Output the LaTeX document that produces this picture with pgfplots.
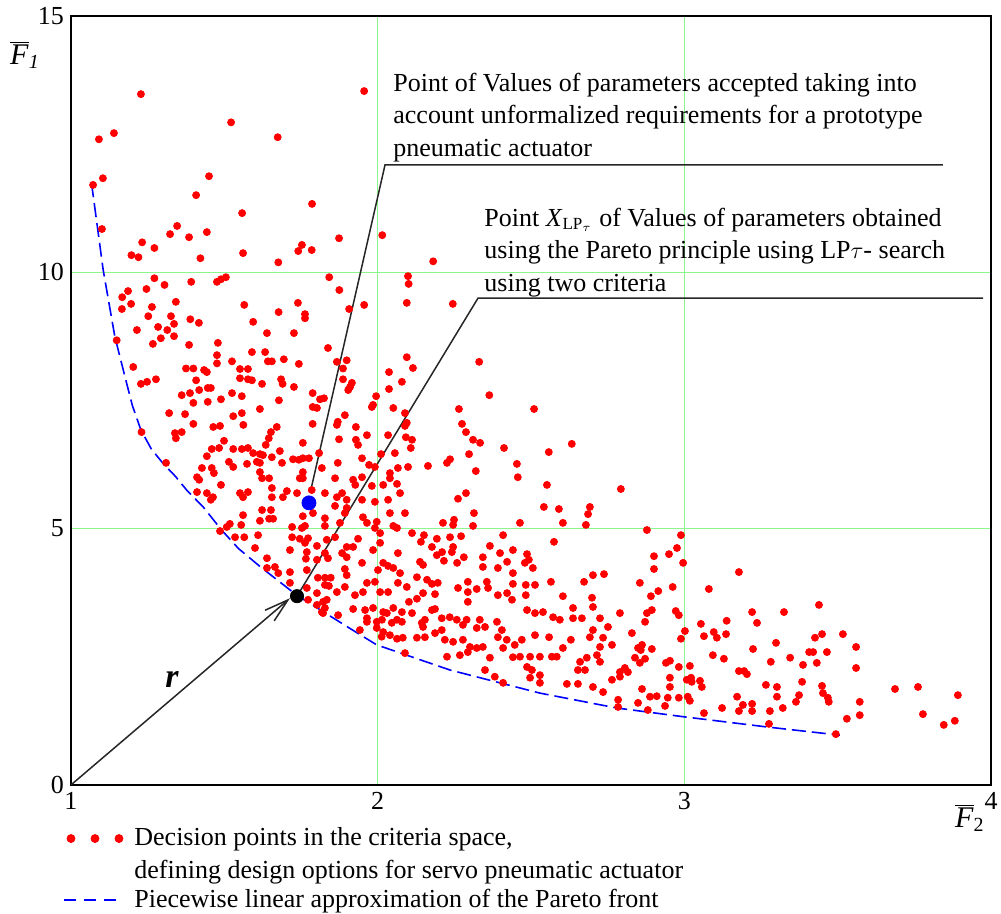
\documentclass[border=0pt]{standalone}
\usepackage{fontspec}
\setmainfont{Liberation Serif}
\usepackage{pgfplots}
\usepackage{pgfplotstable}
\pgfplotsset{compat=1.18}
\usetikzlibrary{arrows.meta}
\definecolor{gridgreen}{RGB}{140,245,140}

% decision points (F2, F1)
\pgfplotstableread{
x y
1.228 13.47
1.956 13.53
1.091 12.59
1.140 12.71
1.522 12.92
1.674 12.63
1.104 11.83
1.072 11.70
1.450 11.87
1.408 11.50
1.786 11.33
1.558 11.15
1.101 10.84
1.346 10.90
1.323 10.74
1.385 10.68
1.443 10.78
1.874 10.66
2.015 10.72
1.232 10.58
1.272 10.47
1.197 10.33
1.220 10.29
1.422 10.27
1.561 10.37
1.741 10.41
1.753 10.53
1.785 10.43
1.676 10.19
2.181 10.21
1.272 9.88
1.842 9.90
2.099 9.92
2.101 9.77
1.476 9.81
1.489 9.86
1.505 9.90
1.392 9.81
1.246 9.67
1.305 9.75
1.186 9.63
1.167 9.51
1.875 9.65
1.166 9.28
1.196 9.38
1.264 9.32
1.342 9.42
1.252 9.14
1.326 9.14
1.336 8.99
1.389 9.08
1.417 9.01
1.565 9.36
1.594 9.03
1.677 9.22
1.740 9.40
1.763 9.18
1.763 9.10
1.907 9.28
1.956 9.36
2.095 9.40
1.215 8.87
1.284 8.93
1.314 8.87
1.149 8.67
1.336 8.75
1.293 8.71
1.267 8.60
1.385 8.58
1.479 8.62
1.639 8.81
1.727 8.81
2.095 8.34
1.838 8.52
1.476 8.38
1.476 8.22
1.525 8.26
1.590 8.44
1.633 8.44
1.642 8.26
1.655 8.26
1.694 8.30
1.743 8.21
1.867 8.25
1.899 8.28
1.887 8.12
1.203 8.15
1.375 8.12
1.399 8.12
1.434 8.09
1.443 8.05
1.551 8.11
1.577 8.11
1.551 7.93
1.577 7.91
1.590 7.89
1.685 7.91
1.277 7.91
1.248 7.86
1.228 7.82
1.408 7.89
1.887 7.91
1.916 7.84
2.079 7.86
2.037 8.05
1.418 7.70
1.446 7.74
1.456 7.74
1.361 7.60
1.388 7.64
1.399 7.45
1.446 7.47
1.489 7.52
1.525 7.64
1.557 7.58
1.623 7.82
1.678 7.50
1.690 7.82
1.727 7.76
1.788 7.64
1.812 7.52
1.825 7.54
1.788 7.37
1.802 7.35
1.904 7.70
1.910 7.76
1.995 7.58
1.985 7.41
1.981 7.37
2.037 7.72
2.051 7.35
1.616 7.33
1.320 7.25
1.372 7.23
1.529 7.19
1.557 7.25
1.562 7.02
1.399 7.04
1.464 6.98
1.486 7.00
1.671 6.98
1.788 7.04
1.867 7.02
1.870 7.08
1.893 7.21
1.929 6.98
1.965 6.82
1.929 6.73
2.034 6.82
2.095 7.06
1.339 6.86
1.361 6.88
1.342 6.76
1.230 6.88
1.652 6.88
1.645 6.76
1.635 6.63
1.499 6.71
1.756 6.67
1.874 6.74
1.936 6.63
1.459 6.55
1.483 6.57
1.529 6.55
1.557 6.55
1.577 6.57
1.594 6.47
1.616 6.45
1.626 6.43
1.443 6.41
1.515 6.30
1.529 6.20
1.574 6.26
1.606 6.30
1.616 6.28
1.655 6.39
1.681 6.51
1.688 6.28
1.724 6.35
1.743 6.34
1.756 6.37
1.776 6.37
1.809 6.47
1.870 6.28
1.949 6.37
1.972 6.24
2.011 6.45
2.056 6.47
1.310 6.28
1.459 6.18
1.466 6.08
1.427 6.18
1.411 6.00
1.616 6.10
1.756 6.10
1.818 6.18
1.756 5.98
1.746 5.98
1.949 6.00
1.991 6.20
2.040 6.08
2.066 6.18
2.099 6.20
1.418 5.95
1.489 5.85
1.623 5.98
1.646 5.98
1.551 5.69
1.561 5.61
1.577 5.71
1.456 5.56
1.463 5.61
1.443 5.69
1.411 5.71
1.655 5.79
1.655 5.61
1.704 5.73
1.737 5.69
1.691 5.61
1.785 5.75
1.828 5.69
1.861 5.98
1.867 5.61
1.884 5.69
1.920 5.95
1.927 5.85
1.981 5.83
2.018 5.85
2.040 5.98
2.063 5.87
2.073 5.69
1.899 5.56
1.899 5.40
1.893 5.30
1.949 5.56
1.991 5.52
2.034 5.56
1.861 5.44
1.623 5.36
1.652 5.36
1.789 5.30
1.616 5.15
1.646 5.19
1.659 5.19
1.561 5.26
1.555 5.07
1.518 5.09
1.508 5.03
1.486 4.95
1.721 5.03
1.756 5.24
1.763 5.05
1.753 5.01
1.828 5.20
1.828 5.05
1.877 5.11
1.952 5.22
1.965 5.11
1.997 5.13
1.991 5.01
2.051 5.05
2.063 5.01
2.040 5.30
2.089 5.30
1.610 4.87
1.535 4.83
1.565 4.83
1.721 4.83
1.746 4.80
1.773 4.81
1.763 4.72
1.802 4.66
1.834 4.78
1.861 4.83
1.899 4.64
1.920 4.64
1.936 4.80
2.008 4.91
2.008 4.72
1.600 4.62
1.639 4.42
1.714 4.58
1.769 4.54
1.766 4.41
1.769 4.19
1.802 4.39
1.828 4.52
1.838 4.42
1.884 4.52
1.899 4.44
1.985 4.58
2.018 4.33
2.066 4.52
1.893 4.21
1.949 4.33
2.001 4.19
2.034 4.27
2.051 4.23
2.073 4.13
1.899 4.09
1.665 4.25
1.676 4.13
1.639 4.23
1.714 4.15
1.805 4.04
1.714 3.94
1.769 3.84
1.802 3.74
1.828 4.04
1.847 4.04
1.828 3.90
1.841 3.88
1.867 3.76
1.893 3.86
1.926 3.70
1.952 3.76
1.965 3.94
1.991 3.96
2.008 3.76
2.034 3.76
2.066 3.94
2.095 3.86
1.773 3.61
1.802 3.51
1.834 3.61
1.828 3.45
1.920 3.43
1.959 3.41
1.985 3.45
2.018 3.37
2.051 3.45
2.079 3.37
1.822 3.35
2.014 3.22
2.046 3.16
1.965 3.18
2.265 7.33
2.510 7.33
2.275 7.04
2.288 6.88
2.311 6.73
2.334 6.67
2.412 6.57
2.558 6.49
2.633 6.65
2.112 6.73
2.108 6.57
2.298 6.45
2.236 6.35
2.226 6.28
2.164 6.22
2.320 6.12
2.454 6.26
2.457 6.00
2.552 5.85
2.793 5.77
2.288 5.69
2.262 5.58
2.314 5.30
2.542 5.42
2.591 5.38
2.692 5.42
2.686 5.28
2.604 5.11
2.679 5.07
2.464 5.11
2.249 5.17
2.213 5.11
2.246 5.07
2.311 5.05
2.878 4.97
2.409 4.87
2.575 4.74
2.112 4.91
2.151 4.87
2.193 4.80
2.236 4.83
2.272 4.85
2.141 4.74
2.177 4.64
2.210 4.54
2.246 4.64
2.242 4.54
2.281 4.44
2.366 4.66
2.399 4.52
2.441 4.58
2.487 4.50
2.493 4.39
2.422 4.35
2.138 4.35
2.148 4.29
2.193 4.48
2.216 4.37
2.259 4.33
2.343 4.44
2.343 4.25
2.392 4.23
2.480 4.33
2.506 4.23
2.441 4.13
2.128 4.05
2.161 4.00
2.177 3.92
2.196 3.94
2.187 3.72
2.148 3.74
2.102 3.57
2.128 3.63
2.112 3.35
2.262 3.84
2.294 3.96
2.294 3.76
2.294 3.57
2.323 3.82
2.356 3.96
2.360 3.84
2.392 3.70
2.422 3.74
2.441 3.92
2.438 3.61
2.483 3.90
2.513 3.90
2.483 3.70
2.565 3.96
2.673 3.96
2.702 4.09
2.738 4.11
2.855 3.94
2.604 3.68
2.637 3.45
2.699 3.65
2.702 3.47
2.487 3.41
2.513 3.35
2.539 3.37
2.572 3.27
2.594 3.22
2.637 3.25
2.666 3.25
2.725 3.25
2.751 3.08
2.790 3.35
2.829 2.96
2.878 3.35
2.849 2.67
2.702 3.02
2.692 2.88
2.735 2.87
2.764 2.73
2.725 2.69
2.715 2.53
2.682 2.48
2.660 2.40
2.653 2.24
2.676 2.24
2.725 2.40
2.764 2.05
2.790 2.20
2.806 2.28
2.816 2.20
2.790 2.11
2.839 2.48
2.855 2.38
2.862 2.73
2.784 1.66
2.784 1.52
2.849 1.60
2.735 1.81
2.702 1.91
2.617 1.97
2.653 1.97
2.604 2.67
2.630 2.83
2.559 2.88
2.513 2.92
2.470 2.83
2.447 2.73
2.421 2.83
2.392 2.88
2.405 3.02
2.389 3.18
2.350 3.08
2.323 3.06
2.333 3.22
2.290 3.22
2.278 3.12
2.258 3.22
2.235 3.27
2.209 3.25
2.187 3.43
2.177 3.41
2.154 3.22
2.144 3.16
2.148 3.08
2.128 2.87
2.154 2.88
2.187 2.96
2.209 3.02
2.219 2.83
2.246 2.79
2.278 2.83
2.301 2.69
2.294 2.59
2.323 2.67
2.343 2.69
2.366 2.48
2.350 2.24
2.382 2.11
2.409 1.99
2.409 2.67
2.441 2.49
2.464 2.50
2.497 2.50
2.529 2.50
2.487 2.30
2.503 2.24
2.497 2.09
2.529 2.14
2.529 1.99
2.568 2.50
2.584 2.50
2.226 2.50
2.268 2.53
2.089 2.57
2.082 2.87
2.063 2.85
2.040 2.92
2.018 2.98
2.013 2.89
1.997 3.06
1.942 3.02
1.871 3.31
1.997 3.18
1.965 3.25
1.818 3.37
1.822 3.57
2.030 3.35
2.063 3.22
2.079 3.18
2.989 4.87
2.976 4.62
2.950 4.50
2.901 4.46
2.901 4.21
2.996 4.33
2.962 3.86
2.915 3.78
2.891 3.68
3.178 4.15
3.080 3.82
2.894 3.41
2.872 3.18
2.972 3.39
2.982 3.31
3.002 3.00
2.989 2.85
3.054 3.14
3.138 3.20
3.221 3.37
3.237 3.16
3.325 3.37
3.439 3.51
2.858 2.63
2.894 2.65
2.872 2.46
2.940 2.38
2.953 2.42
2.982 2.30
3.018 2.32
3.064 2.90
3.096 2.98
3.106 2.87
3.136 2.94
3.093 2.53
3.129 2.46
2.953 2.09
3.008 2.05
3.022 2.09
3.024 2.01
3.051 2.03
3.057 1.91
3.011 1.72
3.018 1.64
2.953 1.91
2.946 1.70
2.937 1.54
2.982 1.70
2.910 1.73
2.888 1.72
2.881 1.46
2.862 1.87
3.064 1.40
3.123 1.50
3.172 1.72
3.178 1.44
3.191 1.56
3.221 1.58
3.221 1.44
3.266 1.95
3.302 1.91
3.302 1.72
3.279 1.44
3.321 1.50
3.276 1.19
3.364 1.62
3.374 1.75
3.384 2.01
3.449 1.93
3.452 1.79
3.468 1.70
3.471 1.62
3.530 1.29
3.572 1.62
3.572 1.36
3.494 0.99
3.687 1.87
3.762 1.91
3.778 1.38
3.846 1.17
3.882 1.25
3.892 1.75
3.560 2.69
3.560 2.28
3.517 2.94
3.465 2.59
3.432 2.38
3.387 2.34
3.345 2.48
3.407 2.59
3.420 2.59
3.426 2.87
3.449 2.94
3.282 2.40
3.299 2.77
3.224 2.65
3.195 2.22
3.204 2.16
3.178 2.22
2.245 9.38
2.115 8.13
2.331 8.25
2.364 7.60
2.089 7.25
2.089 7.00
2.092 6.78
}\decisions

% piecewise linear approximation of the Pareto front
\pgfplotstableread{
x y
1.067 11.73
1.105 10.04
1.143 8.74
1.176 7.96
1.200 7.40
1.228 6.92
1.262 6.55
1.300 6.27
1.340 6.02
1.377 5.75
1.431 5.42
1.491 4.97
1.546 4.61
1.616 4.26
1.736 3.70
1.910 3.05
1.997 2.73
2.236 2.24
2.529 1.79
2.779 1.50
2.996 1.33
3.269 1.13
3.507 0.97
}\front

\begin{document}
\begin{tikzpicture}
\begin{axis}[
    at={(0,0)}, anchor=south west,
    scale only axis, width=460pt, height=384.6pt,
    xmin=1, xmax=4, ymin=0, ymax=15,
    xtick={1,2,3,4}, ytick={0,5,10,15},
    grid=major,
    major grid style={gridgreen, line width=0.5pt},
    major tick length=0pt,
    axis line style={line width=1pt},
    tick label style={font=\fontsize{13}{15}\selectfont},
    /pgf/number format/assume math mode=true,
    clip=false,
    legend style={at={(-0.0087,-0.05)}, anchor=north west, draw=none, fill=none,
        font=\fontsize{13}{16.25}\selectfont,
        cells={anchor=west, align=left}, inner sep=0pt, row sep=0pt},
]
\addplot[only marks, mark=*, red, mark size=1.75pt,
    legend image code/.code={
        \fill[red] (3.3pt,8pt) circle[radius=2pt];
        \fill[red] (15.3pt,8pt) circle[radius=2pt];
        \fill[red] (27.3pt,8pt) circle[radius=2pt];
        \path (32.8pt,0pt);}]
    table {\decisions};
\addlegendentry{Decision points in the criteria space,\\defining design options for servo pneumatic actuator}

\addplot[blue, line width=0.8pt, dash pattern=on 7pt off 3pt,
    legend image code/.code={
        \draw[blue, line width=1pt, dash pattern=on 6pt off 4pt] (0pt,0pt) -- (26pt,0pt);}]
    table {\front};
\addlegendentry{Piecewise linear approximation of the Pareto front}

% leader lines of the two notes
\draw[line width=0.75pt, black!85] (axis cs:1.782,5.75) -- (axis cs:2.024,12.09) -- (axis cs:3.843,12.09);
\draw[line width=0.75pt, black!85] (axis cs:1.737,3.68) -- (axis cs:2.327,9.49) -- (axis cs:3.974,9.49);
\draw[line width=0.75pt, black!85, -{Straight Barb[length=12pt,width=7pt]}] (axis cs:1,0) -- (axis cs:1.714,3.64);

\addplot[only marks, mark=*, blue, mark size=3.5pt, forget plot] coordinates {(1.776,5.50)};
\addplot[only marks, mark=*, black, mark size=3.3pt, forget plot] coordinates {(1.737,3.68)};

\node[anchor=base west, align=left, inner sep=0pt, font=\fontsize{13}{16.25}\selectfont]
    at (axis cs:2.050,12.26)
    {Point of Values of parameters accepted taking into\\account unformalized requirements for a prototype\\pneumatic actuator};
\node[anchor=base west, align=left, inner sep=0pt, font=\fontsize{13}{16.25}\selectfont]
    at (axis cs:2.347,9.63)
    {Point \textit{X}$_{\mbox{\fontsize{8.5}{8.5}\selectfont LP}_{\tau}}$ of Values of parameters obtained\\using the Pareto principle using LP$\tau$- search\\using two criteria};
\node[font=\fontsize{17}{17}\selectfont\bfseries\itshape] at (axis cs:1.329,2.05) {r};
\node[font=\fontsize{15}{15}\selectfont] at (rel axis cs:-0.05,0.949)
    {$\overline{\mbox{\textit{F}}}_{\mbox{\fontsize{10}{10}\selectfont\textit{1}}}$};
\node[font=\fontsize{15}{15}\selectfont] at (rel axis cs:0.977,-0.043)
    {$\overline{\mbox{\textit{F}}}_{\mbox{\fontsize{10}{10}\selectfont 2}}$};
\end{axis}
\pgfresetboundingbox
\path[use as bounding box] (-35.5pt,-64.5pt) rectangle (465pt,392.45pt);
\end{tikzpicture}
\end{document}
